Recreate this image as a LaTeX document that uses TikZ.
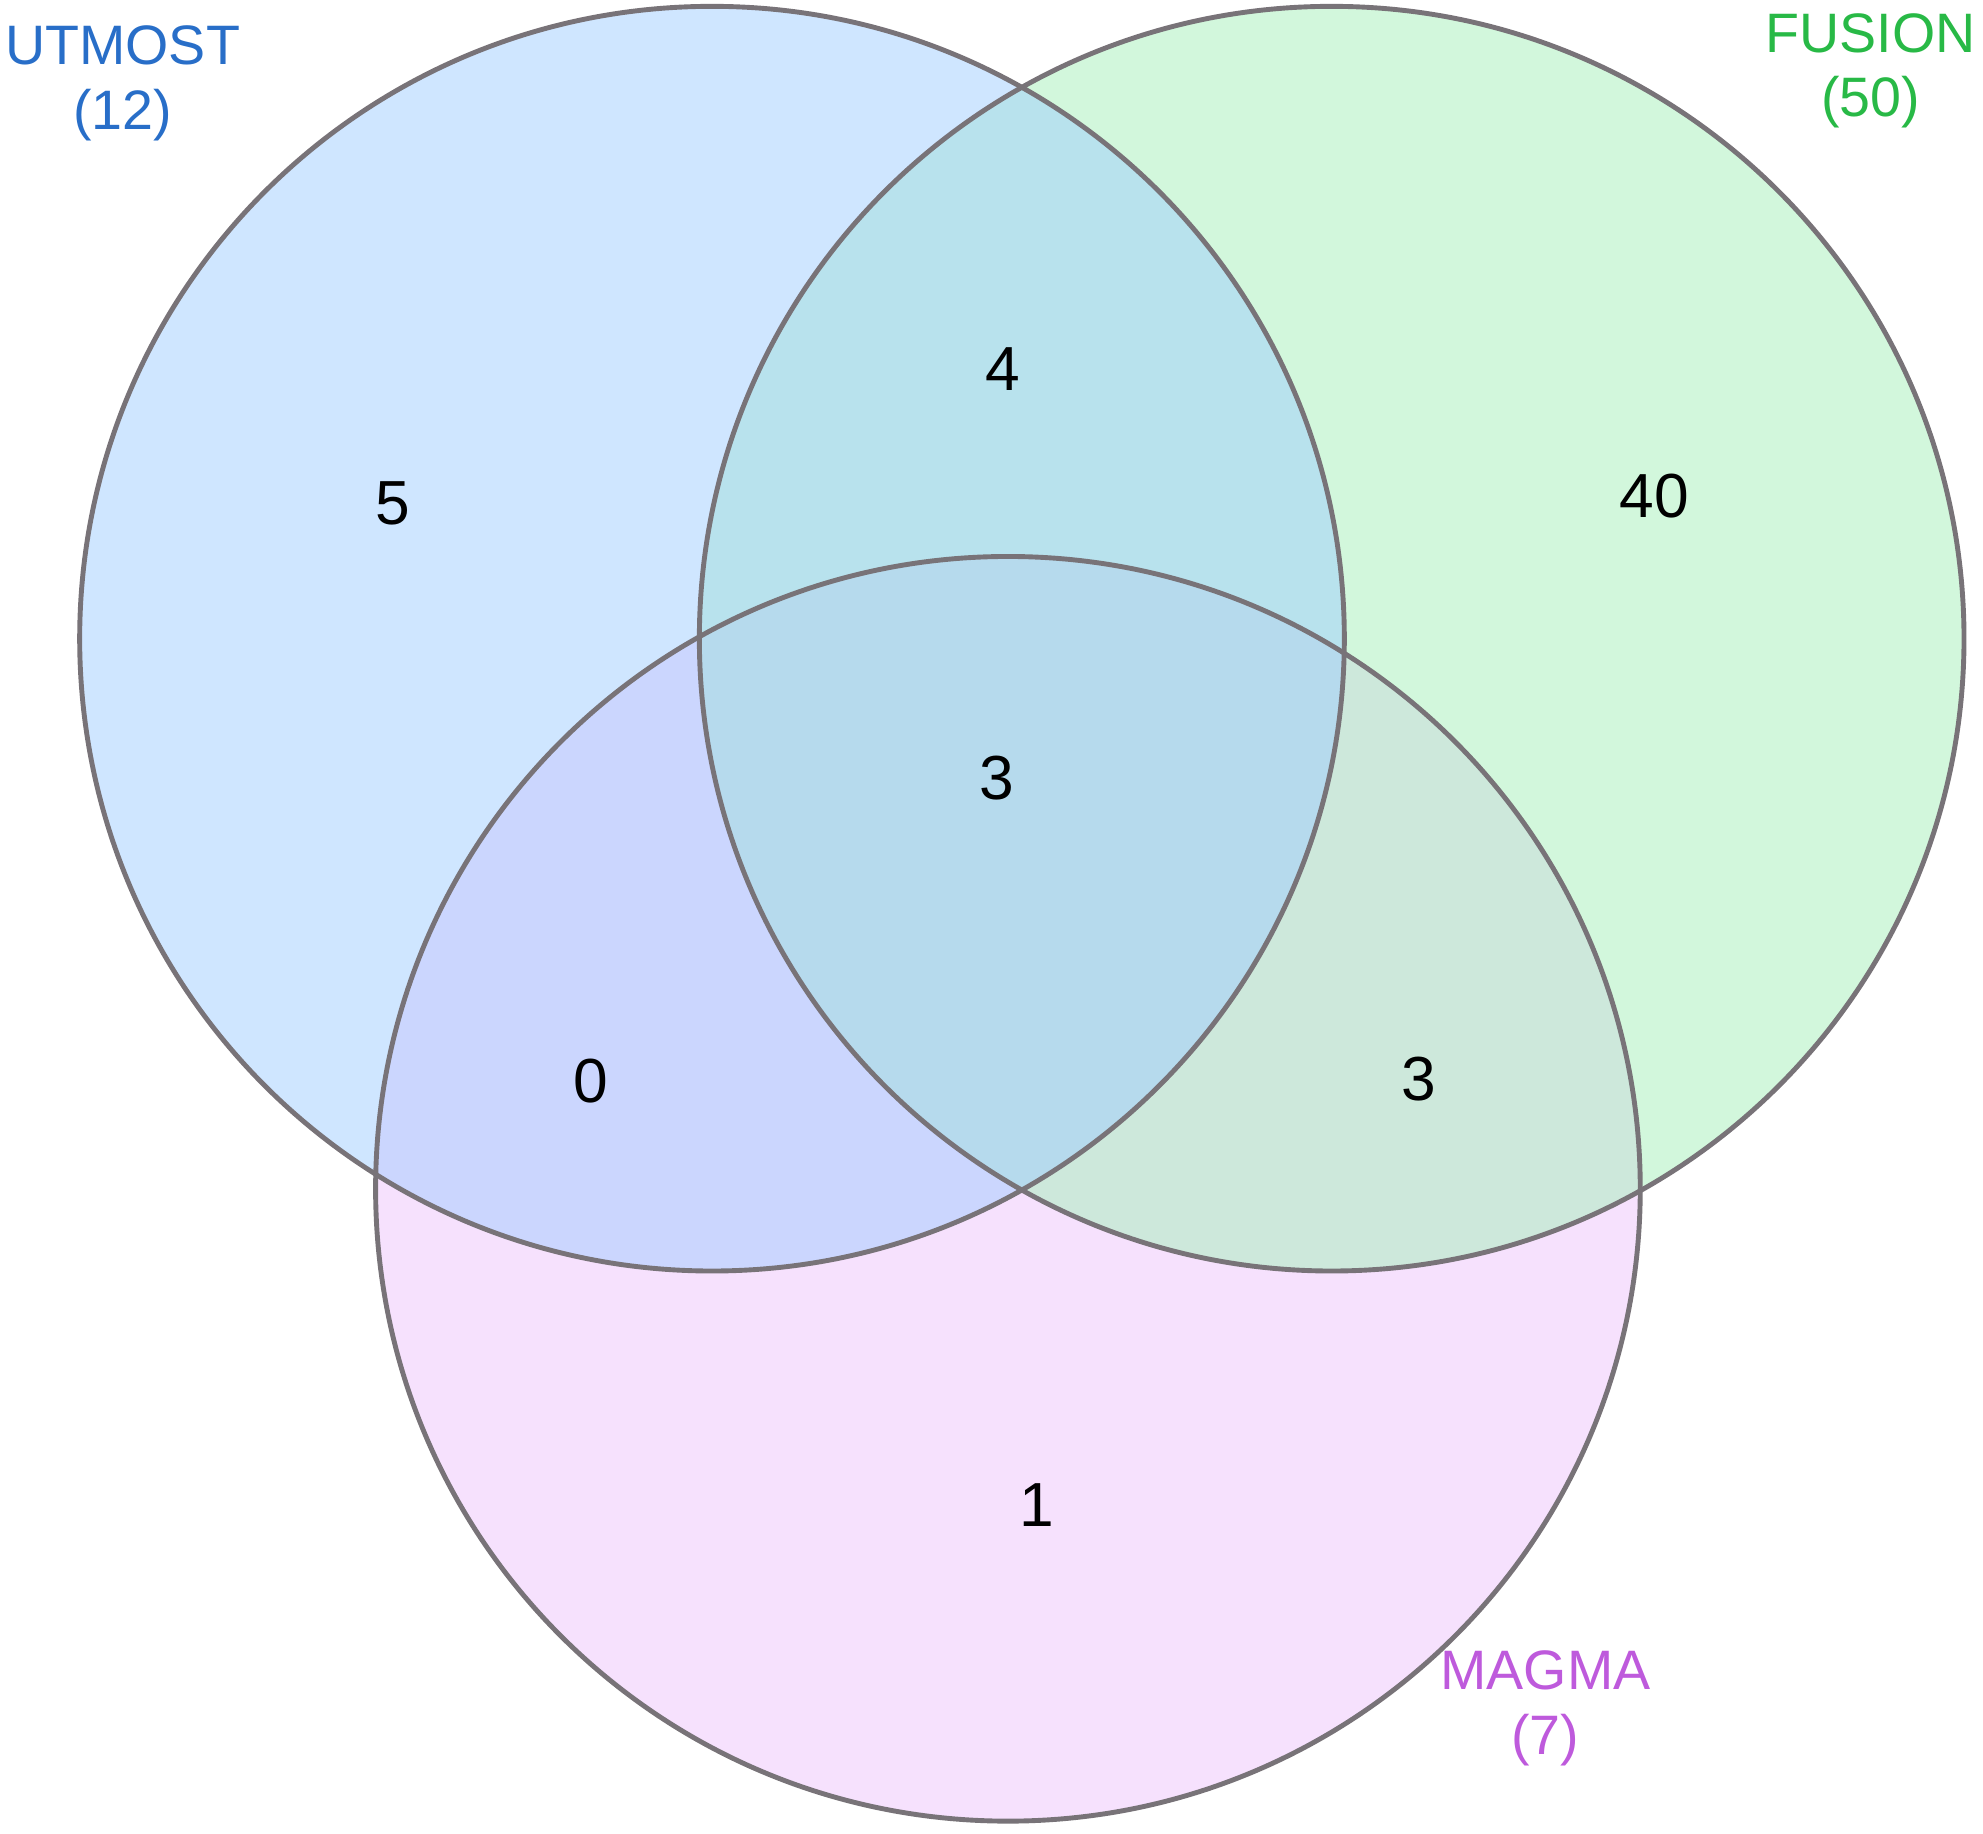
\documentclass[tikz,border=0pt]{standalone}
\usepackage{fontspec}
\setmainfont{Liberation Sans}
\definecolor{ublue}{RGB}{160,205,255}
\definecolor{fgreen}{RGB}{165,240,185}
\definecolor{mpink}{RGB}{238,195,252}
\definecolor{edge}{RGB}{120,115,120}
\definecolor{utxt}{RGB}{40,110,200}
\definecolor{ftxt}{RGB}{40,185,70}
\definecolor{mtxt}{RGB}{190,90,220}
\begin{document}
\begin{tikzpicture}[x=0.01cm,y=-0.01cm,
  setc/.style={circle,minimum size=10cm,inner sep=0pt,fill opacity=0.5},
  ring/.style={draw=edge,line width=1.1pt},
  num/.style={font=\fontsize{14}{16}\selectfont,text=black},
  lab/.style={font=\fontsize{12.5}{14.5}\selectfont,align=center}]
\useasboundingbox (0,0) rectangle (1568,1450);
\node[setc,fill=mpink] (M) at (797,940) {};
\node[setc,fill=fgreen] (F) at (1053,505) {};
\node[setc,fill=ublue] (U) at (563,505) {};
\draw[ring] (M.center) circle[radius=500];
\draw[ring] (F.center) circle[radius=500];
\draw[ring] (U.center) circle[radius=500];
\node[num] (n1) at (311,398) {5};
\node[num] (n2) at (793,292) {4};
\node[num] (n3) at (1308,392) {40};
\node[num] (n4) at (788,615) {3};
\node[num] (n5) at (467,855) {0};
\node[num] (n6) at (1122,853) {3};
\node[num] (n7) at (820,1190) {1};
\node[lab,text=utxt] (lu) at (97,66) {UTMOST\\(12)};
\node[lab,text=ftxt] (lf) at (1479,56) {FUSION\\(50)};
\node[lab,text=mtxt] (lm) at (1222,1351) {MAGMA\\(7)};
\end{tikzpicture}
\end{document}
